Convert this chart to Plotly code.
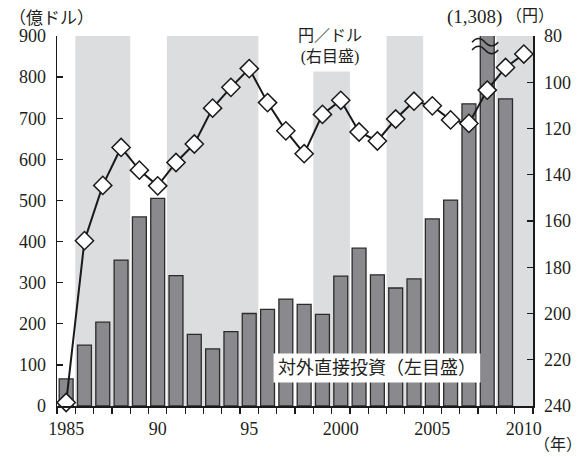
import plotly.graph_objects as go

# ---- data ----
bar_years = list(range(1985, 2010))
fdi = [66, 148, 204, 355, 460, 505, 317, 174, 139, 181, 225, 235, 260, 247, 223,
       316, 384, 319, 287, 309, 455, 501, 735, 1308, 747]

line_years = list(range(1985, 2011))
yen = [238.5, 168.5, 144.6, 128.2, 138.0, 144.8, 134.7, 126.7, 111.2, 102.2, 94.1,
       108.8, 121.0, 130.9, 113.9, 107.8, 121.5, 125.4, 115.9, 108.2, 110.2, 116.3,
       117.8, 103.4, 93.6, 87.8]

shade_periods = [(1985.5, 1988.5), (1990.5, 1995.5), (1998.5, 2000.5),
                 (2002.5, 2004.5), (2008.5, 2010.5)]

x_tick_vals = [1985, 1990, 1995, 2000, 2005, 2010]
x_tick_text = ["1985", "90", "95", "2000", "2005", "2010"]
left_ticks = list(range(0, 901, 100))
right_ticks = list(range(80, 241, 20))

FONT = "Liberation Serif, Noto Sans CJK JP, serif"
INK = "#231f20"

fig = go.Figure()
fig.add_bar(x=bar_years, y=fdi, width=0.76, yaxis="y",
            marker=dict(color="#8a8a8e", line=dict(color="#2b2b2b", width=1.3)),
            showlegend=False, hoverinfo="skip")
fig.add_scatter(x=line_years, y=yen, yaxis="y2", mode="lines+markers",
                line=dict(color="#1a1a1a", width=2),
                marker=dict(symbol="diamond", size=14, color="white",
                            line=dict(color="#1a1a1a", width=1.5)),
                cliponaxis=False, showlegend=False, hoverinfo="skip")

shapes = []
for a, b in shade_periods:
    shapes.append(dict(type="rect", xref="x", yref="paper", x0=a, x1=b, y0=0, y1=1,
                       fillcolor="#dcdddf", line=dict(width=0), layer="below"))
# break marks on the clipped 2008 bar
for yv in (885, 866):
    shapes.append(dict(type="path", xref="x", yref="y",
                       path=f"M 2007.17,{yv} Q 2007.52,{yv+18} 2007.88,{yv} T 2008.6,{yv}",
                       line=dict(color="#1a1a1a", width=1.4), layer="above"))


def note(text, x, y, size=16, **kw):
    d = dict(text=text, x=x, y=y, xref="paper", yref="paper", showarrow=False,
             xanchor="center", yanchor="middle", font=dict(size=size))
    d.update(kw)
    return d


annotations = [
    note("（億ドル）", -0.0126, 1.0486, size=17),
    note("(1,308)", 0.878, 1.05, size=19),
    note("（円）", 0.9937, 1.056, size=16),
    note("円／ドル<br>(右目盛)", 0.5735, 0.9027, yanchor="bottom", bgcolor="white",
         borderpad=5),
    note("対外直接投資（左目盛）", 0.672, 0.103, size=18, bgcolor="white", borderpad=4),
    note("（年）", 1.0525, -0.105),
]

fig.update_layout(
    width=584, height=457,
    margin=dict(l=57, r=51, t=36, b=51, autoexpand=False),
    paper_bgcolor="white", plot_bgcolor="white",
    font=dict(family=FONT, size=18, color=INK),
    bargap=0, hovermode=False,
    shapes=shapes, annotations=annotations,
    xaxis=dict(range=[1984.5, 2010.5], tickmode="array", tickvals=x_tick_vals,
               ticktext=x_tick_text, ticks="", showgrid=False, zeroline=False,
               showline=True, linecolor="#1a1a1a", linewidth=1.5,
               ticklabelstandoff=6, automargin=False,
               minor=dict(tickmode="linear", tick0=1984.5, dtick=1, ticks="outside",
                          ticklen=6, tickcolor="#1a1a1a", tickwidth=1.2, showgrid=False)),
    yaxis=dict(range=[0, 900], tickmode="array", tickvals=left_ticks,
               ticks="inside", ticklen=6, tickcolor="#1a1a1a", tickwidth=1.3,
               showgrid=False, zeroline=False, showline=True, automargin=False,
               linecolor="#1a1a1a", linewidth=1.5, ticklabelstandoff=6),
    yaxis2=dict(range=[240, 80], overlaying="y", side="right", tickmode="array",
                tickvals=right_ticks, ticks="inside", ticklen=6, automargin=False,
                tickcolor="#1a1a1a", tickwidth=1.3, showgrid=False, zeroline=False,
                showline=True, linecolor="#1a1a1a", linewidth=1.5,
                ticklabelstandoff=6),
)

fig.write_html("out.html", config={"displayModeBar": False, "staticPlot": True},
               post_script="document.body.style.margin='0';document.body.style.overflow='hidden';")
